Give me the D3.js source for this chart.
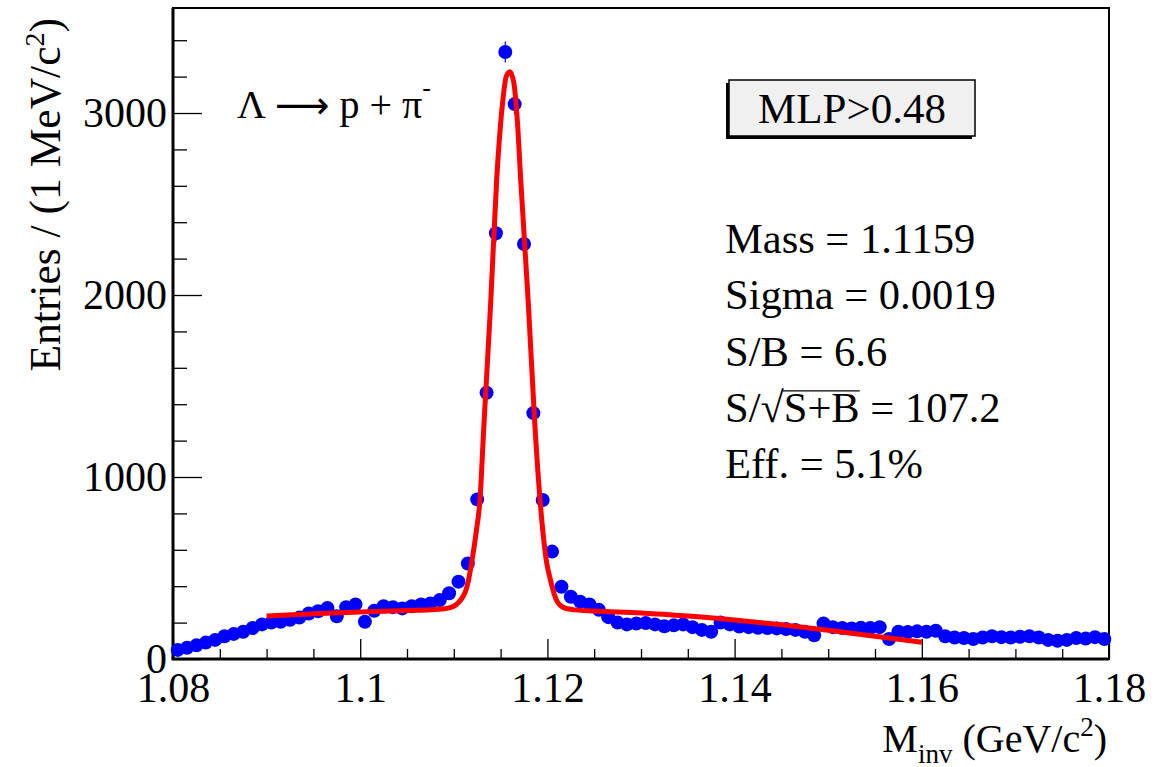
<!DOCTYPE html>
<html>
<head>
<meta charset="utf-8">
<script src="https://cdn.jsdelivr.net/npm/d3@7"></script>
<style>
  body { margin: 0; background: #fff; }
  svg { display: block; font-family: "Liberation Serif", "DejaVu Serif", serif; }
</style>
</head>
<body>
<div id="chart"></div>
<script>
// histogram binning (1 MeV bins)
var histMin = 1.08;
var binWidth = 0.001;

// entries per bin
var counts = [
  50, 62, 75, 90, 105, 125, 138, 150, 170, 190,
  200, 205, 215, 228, 250, 262, 280, 235, 285, 300,
  205, 265, 290, 285, 278, 290, 300, 305, 324, 361,
  425, 525, 877, 1463, 2339, 3335, 3049, 2280, 1351, 874,
  590, 397, 342, 315, 300, 270, 230, 200, 190, 195,
  198, 190, 180, 185, 190, 175, 160, 150, 200, 190,
  178, 175, 172, 170, 168, 165, 160, 150, 130, 195,
  175, 170, 168, 172, 170, 175, 110, 150, 148, 152,
  150, 155, 125, 118, 115, 110, 118, 125, 120, 118,
  122, 125, 118, 105, 100, 105, 115, 112, 120, 110
];

// fit curve (gaussian + background), sampled from the plot
var fitMass = [1.090, 1.095, 1.100, 1.105, 1.108, 1.109, 1.110, 1.1105, 1.1110, 1.1113,
  1.1116, 1.1119, 1.1124, 1.1128, 1.1132, 1.11394, 1.11458, 1.1152, 1.1156, 1.1160,
  1.1164, 1.1168, 1.11715, 1.11796, 1.11868, 1.11921, 1.11993, 1.1203, 1.1206, 1.1210,
  1.1215, 1.1220, 1.1230, 1.125, 1.130, 1.135, 1.140, 1.145, 1.150, 1.155, 1.160];
var fitValue = [236, 248, 258, 266, 272, 276, 290, 310, 345, 379,
  440, 527, 700, 877, 1269, 1956, 2632, 3050, 3200, 3227,
  3170, 2950, 2632, 1956, 1269, 877, 527, 440, 379, 320,
  290, 278, 270, 264, 253, 236, 214, 188, 158, 125, 92];

// axis ticks
var xMajorTicks = [1.08, 1.10, 1.12, 1.14, 1.16, 1.18];
var xMinorTicks = [1.085, 1.09, 1.095, 1.105, 1.11, 1.115, 1.125, 1.13, 1.135,
  1.145, 1.15, 1.155, 1.165, 1.17, 1.175];
var yMajorTicks = [0, 1000, 2000, 3000];
var yMinorTicks = [200, 400, 600, 800, 1200, 1400, 1600, 1800, 2200, 2400, 2600, 2800, 3200, 3400];

var statLines = ["Mass = 1.1159", "Sigma = 0.0019", "S/B = 6.6", "S/\u221AS+B = 107.2", "Eff. = 5.1%"];

var margin = {top: 8, right: 63, bottom: 108, left: 173},
    width = 1172 - margin.left - margin.right,
    height = 767 - margin.top - margin.bottom;

var svg = d3.select("#chart")
  .append("svg")
    .attr("width", 1172)
    .attr("height", 767);

var g = svg.append("g")
    .attr("transform", "translate(" + margin.left + "," + margin.top + ")");

var xScale = d3.scaleLinear()
    .domain([1.08, 1.18])
    .range([0, width]);

var yScale = d3.scaleLinear()
    .domain([0, 3577])
    .range([height, 0]);

// frame
g.append("rect")
    .attr("width", width)
    .attr("height", height)
    .attr("fill", "none")
    .attr("stroke", "#000")
    .attr("stroke-width", 2);

// x axis: ticks pointing into the frame
var xMinor = g.append("g")
    .attr("transform", "translate(0," + height + ")")
    .call(d3.axisBottom(xScale).tickValues(xMinorTicks).tickSizeInner(-10).tickSizeOuter(0).tickFormat(""));
var xMajor = g.append("g")
    .attr("transform", "translate(0," + height + ")")
    .call(d3.axisBottom(xScale).tickValues(xMajorTicks).tickSizeInner(-20).tickSizeOuter(0)
      .tickPadding(13).tickFormat(function(d) { return String(+d.toFixed(2)); }));

// y axis
var yMinor = g.append("g")
    .call(d3.axisLeft(yScale).tickValues(yMinorTicks).tickSizeInner(-14).tickSizeOuter(0).tickFormat(""));
var yMajor = g.append("g")
    .call(d3.axisLeft(yScale).tickValues(yMajorTicks).tickSizeInner(-29).tickSizeOuter(0)
      .tickPadding(6).tickFormat(d3.format("d")));

[xMinor, xMajor, yMinor, yMajor].forEach(function(ax) {
  ax.select(".domain").remove();
  ax.selectAll("line").attr("stroke", "#000").attr("stroke-width", 1.3);
  ax.selectAll("text")
    .attr("font-family", "Liberation Serif")
    .attr("font-size", "42px")
    .attr("fill", "#000");
});

// thick axis lines
g.append("line").attr("x1", 0).attr("x2", 0).attr("y1", 0).attr("y2", height)
    .attr("stroke", "#000").attr("stroke-width", 3);
g.append("line").attr("x1", -1.5).attr("x2", width).attr("y1", height).attr("y2", height)
    .attr("stroke", "#000").attr("stroke-width", 3);

// data points with error bars
var bins = counts.map(function(c, i) {
  return {m: histMin + (i + 0.5) * binWidth, n: c};
});

var pts = g.append("g");
pts.selectAll(".ey")
    .data(bins)
    .enter()
    .append("line")
      .attr("x1", function(d) { return xScale(d.m); })
      .attr("x2", function(d) { return xScale(d.m); })
      .attr("y1", function(d) { return yScale(d.n + Math.sqrt(d.n)); })
      .attr("y2", function(d) { return yScale(d.n - Math.sqrt(d.n)); })
      .attr("stroke", "#0000ff")
      .attr("stroke-width", 1.2);
pts.selectAll(".ex")
    .data(bins)
    .enter()
    .append("line")
      .attr("x1", function(d) { return xScale(d.m - binWidth / 2); })
      .attr("x2", function(d) { return xScale(d.m + binWidth / 2); })
      .attr("y1", function(d) { return yScale(d.n); })
      .attr("y2", function(d) { return yScale(d.n); })
      .attr("stroke", "#0000ff")
      .attr("stroke-width", 1.2);
pts.selectAll("circle")
    .data(bins)
    .enter()
    .append("circle")
      .attr("cx", function(d) { return xScale(d.m); })
      .attr("cy", function(d) { return yScale(d.n); })
      .attr("r", 7)
      .attr("fill", "#0000ff");

// fit curve
var fitData = fitMass.map(function(m, i) { return [m, fitValue[i]]; });
var fitLine = d3.line()
    .x(function(d) { return xScale(d[0]); })
    .y(function(d) { return yScale(d[1]); })
    .curve(d3.curveMonotoneX);
g.append("path")
    .datum(fitData)
    .attr("d", fitLine)
    .attr("fill", "none")
    .attr("stroke", "#ff0000")
    .attr("stroke-width", 5)
    .attr("stroke-linejoin", "round");

// decay label
var decay = svg.append("text")
    .attr("x", 237)
    .attr("y", 118)
    .attr("font-size", "40px")
    .attr("fill", "#000");
decay.append("tspan").text("\u039B ");
decay.append("tspan").attr("font-family", "DejaVu Sans").attr("font-size", "38px").text("\u27F6");
decay.append("tspan").text(" p + \u03C0");
decay.append("tspan").attr("font-size", "26px").attr("dy", -22).text("-");

// MLP box with shadow
svg.append("rect")
    .attr("x", 726).attr("y", 83).attr("width", 246).attr("height", 56)
    .attr("fill", "#000");
svg.append("rect")
    .attr("x", 729).attr("y", 80).attr("width", 246).attr("height", 56)
    .attr("fill", "#f0f0f0")
    .attr("stroke", "#000")
    .attr("stroke-width", 1.5);
svg.append("text")
    .attr("x", 852)
    .attr("y", 123)
    .attr("text-anchor", "middle")
    .attr("font-size", "43px")
    .attr("fill", "#000")
    .text("MLP>0.48");

// fit results
var stats = svg.append("g");
stats.selectAll("text")
    .data(statLines)
    .enter()
    .append("text")
      .attr("x", 725)
      .attr("y", function(d, i) { return 253 + i * 56.3; })
      .attr("font-size", "42.5px")
      .attr("fill", "#000")
      .text(function(d) { return d; });

// overline for the square root
var sq = stats.selectAll("text").filter(function(d, i) { return i === 3; }).node();
var a = sq.getSubStringLength(0, 3);
var b = sq.getSubStringLength(0, 6);
stats.append("line")
    .attr("x1", 725 + a - 1).attr("x2", 725 + b)
    .attr("y1", 253 + 3 * 56.3 - 31).attr("y2", 253 + 3 * 56.3 - 31)
    .attr("stroke", "#000").attr("stroke-width", 1.3);

// axis titles
var xt = svg.append("text")
    .attr("x", 1107)
    .attr("y", 752)
    .attr("text-anchor", "end")
    .attr("font-size", "40px")
    .attr("fill", "#000");
xt.append("tspan").text("M");
xt.append("tspan").attr("font-size", "27px").attr("dy", 11).text("inv");
xt.append("tspan").attr("dy", -11).text(" (GeV/c");
xt.append("tspan").attr("font-size", "27px").attr("dy", -16).text("2");
xt.append("tspan").attr("dy", 16).text(")");

var yt = svg.append("text")
    .attr("transform", "translate(60,18) rotate(-90)")
    .attr("text-anchor", "end")
    .attr("font-size", "43.5px")
    .attr("fill", "#000");
yt.append("tspan").text("Entries / (1 MeV/c");
yt.append("tspan").attr("font-size", "28px").attr("dy", -16).text("2");
yt.append("tspan").attr("dy", 16).text(")");
</script>
</body>
</html>
